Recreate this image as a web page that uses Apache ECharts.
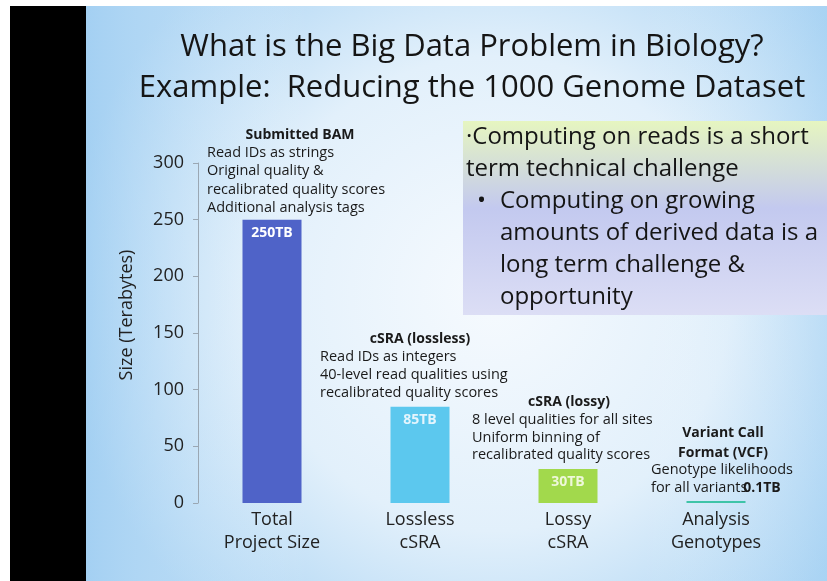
<!DOCTYPE html>
<html>
<head>
<meta charset="utf-8">
<script src="https://cdn.jsdelivr.net/npm/echarts@6/dist/echarts.min.js"></script>
<style>
html,body{margin:0;padding:0;background:#fff;}
#c{width:827px;height:581px;}
</style>
</head>
<body>
<div id="c"></div>
<script>
// ---- data ----
const categories = ['Total\nProject Size', 'Lossless\ncSRA', 'Lossy\ncSRA', 'Analysis\nGenotypes'];
const sizesTB = [250, 85, 30, 0.1];
const valueLabels = ['250TB', '85TB', '30TB', '0.1TB'];
const barColors = ['#4f63c8', '#5cc8ee', '#a2d94c', '#3fc4a8'];
const labelColors = ['#ffffff', '#e4f5fd', '#eef8da', '#1a1a1a'];
const yMin = 0, yMax = 300, yStep = 50;
const titleLines = ['What is the Big Data Problem in Biology?', 'Example:  Reducing the 1000 Genome Dataset'];
const boxLines = ['\u00b7Computing on reads is a short', 'term technical challenge', 'Computing on growing', 'amounts of derived data is a', 'long term challenge &', 'opportunity'];
const notes = [
  {head: ['Submitted BAM'], body: ['Read IDs as strings', 'Original quality &', 'recalibrated quality scores', 'Additional analysis tags']},
  {head: ['cSRA (lossless)'], body: ['Read IDs as integers', '40-level read qualities using', 'recalibrated quality scores']},
  {head: ['cSRA (lossy)'], body: ['8 level qualities for all sites', 'Uniform binning of', 'recalibrated quality scores']},
  {head: ['Variant Call', 'Format (VCF)'], body: ['Genotype likelihoods', 'for all variants']}
];

const FONT = '"Open Sans", "DejaVu Sans", sans-serif';
const chart = echarts.init(document.getElementById('c'), null, {renderer: 'canvas'});

const g = [];
// slide background
g.push({type: 'rect', z: -20, shape: {x: 86, y: 6, width: 741, height: 575},
  style: {fill: new echarts.graphic.RadialGradient(0.55, 0.5, 0.75, [
    {offset: 0, color: '#f6fafe'}, {offset: 0.55, color: '#e2f0fb'}, {offset: 1, color: '#a9d3f3'}])}});
g.push({type: 'rect', z: -19, shape: {x: 86, y: 6, width: 741, height: 575},
  style: {fill: new echarts.graphic.LinearGradient(0, 0, 1, 0, [
    {offset: 0, color: 'rgba(160,206,242,0.6)'}, {offset: 0.3, color: 'rgba(255,255,255,0)'},
    {offset: 0.75, color: 'rgba(255,255,255,0)'}, {offset: 1, color: 'rgba(170,212,244,0.35)'}])}});
// black side strip
g.push({type: 'rect', z: -18, shape: {x: 10, y: 6, width: 76, height: 575}, style: {fill: '#000'}});
// title
titleLines.forEach((t, i) => g.push({type: 'text', z: 10, x: 472, y: 47 + i * 41,
  style: {text: t, font: '31px ' + FONT, fill: '#151515', textAlign: 'center', textVerticalAlign: 'middle'}}));
// text box
g.push({type: 'rect', z: 5, shape: {x: 463, y: 121, width: 364, height: 194},
  style: {fill: new echarts.graphic.LinearGradient(0, 0, 0, 1, [
    {offset: 0, color: '#e6f5c0'}, {offset: 0.45, color: '#c3c9ef'}, {offset: 1, color: '#dcdef5'}])}});
const boxX = [466, 466, 500, 500, 500, 500];
boxLines.forEach((t, i) => g.push({type: 'text', z: 10, x: boxX[i], y: 137 + i * 32,
  style: {text: t, font: '24px ' + FONT, fill: '#151515', textVerticalAlign: 'middle'}}));
g.push({type: 'text', z: 10, x: 477, y: 201, style: {text: '\u2022', font: '24px ' + FONT, fill: '#151515', textVerticalAlign: 'middle'}});
// y axis name
g.push({type: 'text', z: 10, x: 127, y: 315, rotation: Math.PI / 2,
  style: {text: 'Size (Terabytes)', font: '18px ' + FONT, fill: '#222', textAlign: 'center', textVerticalAlign: 'middle'}});
// annotations
const headPos = [[300, 135], [420, 339], [569, 402], [723, 433]];
const bodyPos = [[207, 153], [320, 357], [472, 420], [651, 470]];
const bodyStep = [18.3, 18, 17.5, 18];
notes.forEach((n, k) => {
  n.head.forEach((t, i) => g.push({type: 'text', z: 10, x: headPos[k][0], y: headPos[k][1] + i * 20,
    style: {text: t, font: 'bold 14px ' + FONT, fill: '#1a1a1a', textAlign: 'center', textVerticalAlign: 'middle'}}));
  n.body.forEach((t, i) => g.push({type: 'text', z: 10, x: bodyPos[k][0], y: bodyPos[k][1] + i * bodyStep[k],
    style: {text: t, font: '14.5px ' + FONT, fill: '#1a1a1a', textVerticalAlign: 'middle'}}));
});

chart.setOption({
  animation: false,
  grid: {left: 198, right: 37, top: 163, bottom: 78, containLabel: false},
  graphic: {elements: g},
  xAxis: {
    type: 'category', data: categories,
    axisLine: {show: false}, axisTick: {show: false},
    axisLabel: {fontSize: 18, fontFamily: FONT, color: '#222', lineHeight: 23, margin: 5}
  },
  yAxis: {
    type: 'value', min: yMin, max: yMax, interval: yStep,
    splitLine: {show: false},
    axisLine: {show: true, lineStyle: {color: '#9aa7b3', width: 1}},
    axisTick: {show: true, length: 5, lineStyle: {color: '#9aa7b3'}},
    axisLabel: {fontSize: 18, fontFamily: FONT, color: '#222', margin: 14}
  },
  series: [{
    type: 'bar', barWidth: 59, barMinHeight: 2,
    data: sizesTB.map((v, i) => ({
      value: v,
      itemStyle: {color: barColors[i]},
      label: i === 3
        ? {show: true, position: 'top', distance: 6, offset: [46, 0], formatter: valueLabels[i],
           fontSize: 14, fontWeight: 'bold', fontFamily: FONT, color: labelColors[i]}
        : {show: true, position: 'insideTop', distance: 6, formatter: valueLabels[i],
           fontSize: 14, fontWeight: 'bold', fontFamily: FONT, color: labelColors[i]}
    }))
  }]
});
</script>
</body>
</html>
